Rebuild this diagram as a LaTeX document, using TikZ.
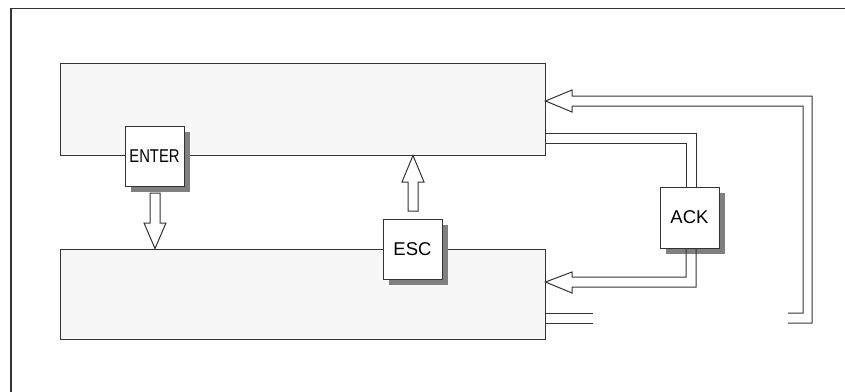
\documentclass[tikz,border=0pt]{standalone}
\usepackage{fontspec}
\setmainfont{Liberation Sans}
\usetikzlibrary{shadows}
\definecolor{ln}{HTML}{333333}
\definecolor{boxfill}{HTML}{F7F7F7}
\definecolor{shd}{HTML}{808080}
\begin{document}
\begin{tikzpicture}[x=1pt,y=-1pt,
  bigbox/.style={draw=ln,line width=1pt,fill=boxfill,inner sep=0pt,minimum width=485pt},
  keybox/.style={draw=ln,line width=1pt,fill=white,inner sep=0pt,minimum width=59pt,minimum height=60pt,
     font=\fontsize{18.5}{20}\selectfont,
     drop shadow={shadow xshift=6pt,shadow yshift=-6pt,fill=shd,opacity=1}},
  wire/.style={draw=ln,line width=1pt,line join=miter},
  hollow/.style={draw=ln,line width=1pt,fill=white,line join=miter}]
\useasboundingbox (0,0) rectangle (845,391);
\draw[ln,line width=1.5pt] (11,392) -- (11,8.5) -- (846,8.5);
% main boxes
\node[bigbox,minimum height=92pt] (top) at (302.5,109) {};
\node[bigbox,minimum height=90pt] (bot) at (302.5,294) {};
% key boxes
\node[keybox] (enter) at (154.5,156) {\scalebox{0.8}[1]{ENTER}};
\node[keybox] (esc) at (412.5,249) {ESC};
\node[keybox,minimum height=61pt] (ack) at (689.5,217.5) {ACK};
% ENTER -> bottom box
\path[hollow] (150,193) -- (160,193) -- (160,223) -- (166,223) -- (bot.north -| 155,0) -- (144,223) -- (150,223) -- cycle;
% ESC -> top box
\path[hollow] (408,211) -- (418,211) -- (418,182) -- (424,182) -- (top.south -| 413,0) -- (402,182) -- (408,182) -- cycle;
% top box -> ACK
\path[wire] (top.east |- 0,133) -- (696,133) -- (ack.north -| 696,0);
\path[wire] (top.east |- 0,143) -- (686,143) -- (ack.north -| 686,0);
% ACK -> bottom box
\path[wire] (ack.south -| 686,0) -- (686,277) -- (572,277) -- (572,272) -- (bot.east |- 0,282) -- (572,293) -- (572,287) -- (696,287) -- (ack.south -| 696,0);
% loop back from bottom box to top box (broken)
\path[wire] (bot.east |- 0,313) -- (593,313);
\path[wire] (bot.east |- 0,323) -- (593,323);
\path[wire] (788,323) -- (812,323) -- (812,96) -- (572,96) -- (572,90) -- (top.east |- 0,101) -- (572,112) -- (572,106) -- (803,106) -- (803,313) -- (788,313);
\end{tikzpicture}
\end{document}
